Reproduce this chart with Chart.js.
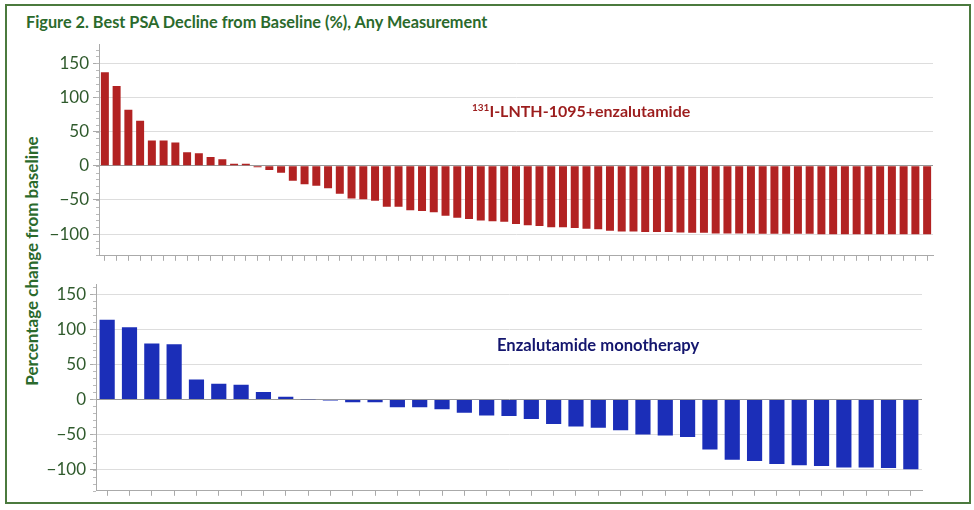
<!DOCTYPE html>
<html>
<head>
<meta charset="utf-8">
<script src="https://cdn.jsdelivr.net/npm/chart.js@4"></script>
<style>
  body { margin: 0; background: #fff; }
  #frame { position: absolute; left: 5px; top: 4px; width: 962px; height: 496px; border: 2px solid #4b7a3e; }
  .txt { position: absolute; font-family: Lato, "Open Sans", sans-serif; font-weight: bold; white-space: nowrap; }
  #title { left: 26px; top: 12px; font-size: 16.3px; color: #2b6a2c; }
  #ylabel { left: 31px; top: 261px; font-size: 17px; color: #2b6a2c; transform: translate(-50%, -50%) rotate(-90deg); }
  #lab1 { left: 472px; top: 101px; font-size: 16px; color: #9c1d1d; }
  #lab1 sup { font-size: 10px; }
  #lab2 { left: 497px; top: 335px; font-size: 16.6px; color: #14166e; }
  .box { position: absolute; left: 0; width: 974px; }
</style>
</head>
<body>
<div id="frame"></div>
<div id="title" class="txt">Figure 2. Best PSA Decline from Baseline (%), Any Measurement</div>
<div id="ylabel" class="txt">Percentage change from baseline</div>
<div class="box" style="top:30px;height:240px"><canvas id="chartTop"></canvas></div>
<div class="box" style="top:270px;height:235px"><canvas id="chartBottom"></canvas></div>
<div id="lab1" class="txt"><sup>131</sup>I-LNTH-1095+enzalutamide</div>
<div id="lab2" class="txt">Enzalutamide monotherapy</div>
<script>
// best PSA change per patient, sorted
const comboValues = [137, 117, 82, 66, 37, 37, 34, 20, 18.5, 13, 9.5, 3, 3,
  -2, -6, -10, -22, -27, -29, -33, -41, -48, -49,
  -51, -60, -60, -65, -66, -68, -73, -76, -78, -80, -81, -82, -85, -87, -88,
  -90, -90, -91, -92, -93, -95, -96, -96, -97, -97, -97,
  -97.5, -98, -98, -99, -99, -99, -99, -99.5, -99.5, -99.5, -99.5, -99.5,
  -100, -100, -100, -100, -100, -100, -100, -100, -100, -100];
const monoValues = [114, 103, 80, 79, 28.5, 22.5, 21, 10.5, 4, -0.5, -1.5, -4,
  -4, -11, -11, -14, -19, -23, -23.5, -28, -35, -38.5, -40.5, -44, -50, -51.5,
  -53.5, -71.5, -86, -88, -92, -94, -95, -97, -97, -98, -99.5];
const comboPatients = comboValues.map((v, i) => String(i + 1));
const monoPatients = monoValues.map((v, i) => String(i + 1));
const yTicks = [-100, -50, 0, 50, 100, 150];

const minorTicks = {
  id: 'minorTicks',
  afterDraw(chart) {
    const y = chart.scales.y, c = chart.ctx;
    c.save();
    c.strokeStyle = '#bbb';
    c.lineWidth = 1;
    for (let v = -130; v <= y.max; v += 10) {
      if (v < y.min) continue;
      const py = Math.round(y.getPixelForValue(v)) + 0.5;
      c.beginPath();
      c.moveTo(y.right - 3, py);
      c.lineTo(y.right, py);
      c.stroke();
    }
    c.restore();
  }
};

function makeChart(id, labels, values, color, yMin, yMax, axisW, pad, xH) {
  return new Chart(document.getElementById(id), {
    type: 'bar',
    data: {
      labels: labels,
      datasets: [{
        data: values,
        backgroundColor: color,
        borderWidth: 0,
        barPercentage: 0.68,
        categoryPercentage: 1
      }]
    },
    options: {
      responsive: true,
      maintainAspectRatio: false,
      animation: false,
      layout: { padding: pad },
      plugins: { legend: { display: false }, tooltip: { enabled: false } },
      scales: {
        x: {
          grid: { offset: false, drawOnChartArea: false, tickLength: 5, color: '#aaa' },
          border: { color: '#aaa' },
          ticks: { display: false },
          afterFit: s => { s.height = xH; }
        },
        y: {
          min: yMin,
          max: yMax,
          afterBuildTicks: s => { s.ticks = yTicks.map(v => ({ value: v })); },
          grid: {
            color: ctx => ctx.tick && ctx.tick.value === 0 ? '#999' : '#ddd',
            tickColor: '#aaa',
            tickLength: 6
          },
          border: { color: '#aaa' },
          ticks: {
            color: '#2f5a2c',
            padding: 4,
            font: { family: 'Lato, "Open Sans", sans-serif', size: 17 },
            callback: v => v < 0 ? '\u2212' + Math.abs(v) : v
          },
          afterFit: s => { s.width = axisW; }
        }
      }
    },
    plugins: [minorTicks]
  });
}

makeChart('chartTop', comboPatients, comboValues, '#b22222', -131.7, 178, 99,
  { top: 12, right: 41, bottom: 0, left: 0 }, 10);
makeChart('chartBottom', monoPatients, monoValues, '#1b2eb8', -130.4, 164.6, 96,
  { top: 13, right: 52, bottom: 0, left: 0 }, 12);
</script>
</body>
</html>
